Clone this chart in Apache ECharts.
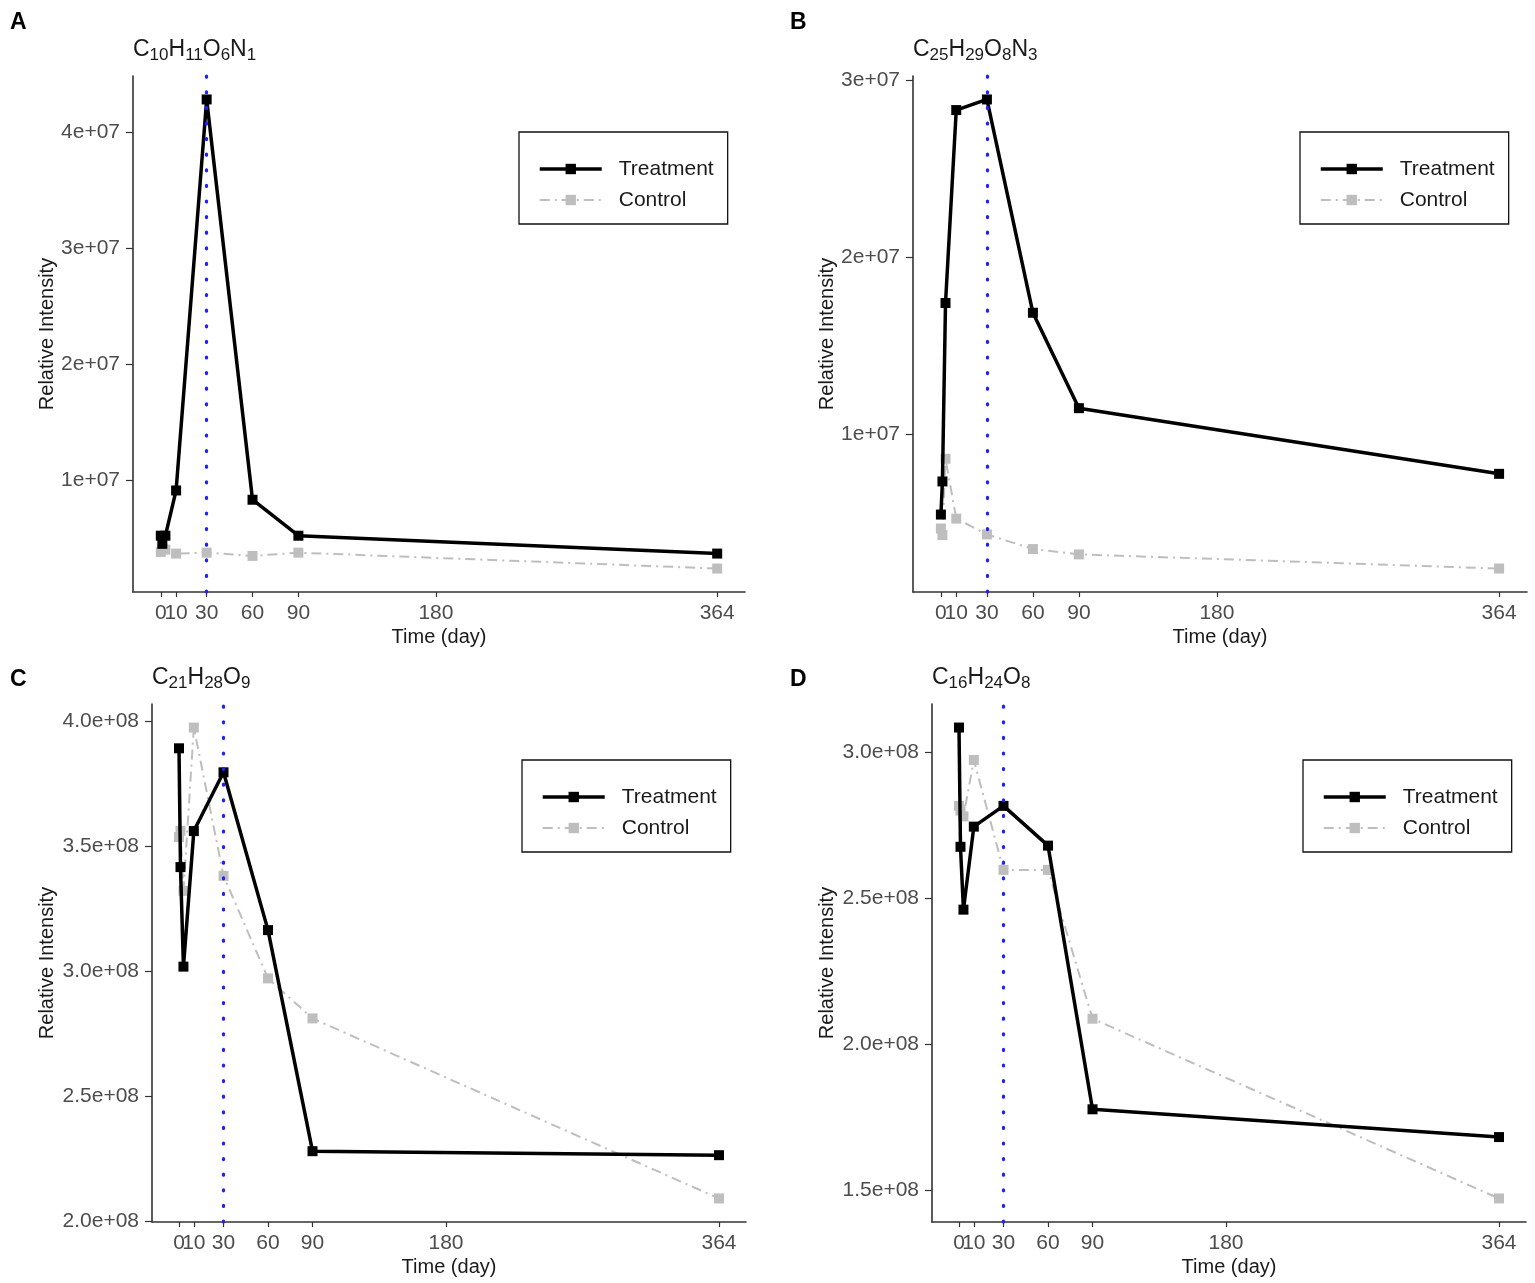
<!DOCTYPE html>
<html lang="en">
<head>
<meta charset="utf-8">
<title>Relative Intensity</title>
<script src="https://cdn.jsdelivr.net/npm/echarts@6/dist/echarts.min.js"></script>
<style>
html,body{margin:0;padding:0;background:#fff;}
#main{width:1535px;height:1283px;}
</style>
</head>
<body>
<div id="main"></div>
<script>
// sampling days and axis ticks
var days = [0, 1, 3, 10, 30, 60, 90, 364];
var xTicks = [0, 10, 30, 60, 90, 180, 364];
var markDay = 30;

// A : C10H11O6N1
var titleA = [['C', '10'], ['H', '11'], ['O', '6'], ['N', '1']];
var treatA = [5.2e6, 4.5e6, 5.2e6, 9.1e6, 4.28e7, 8.3e6, 5.2e6, 3.66e6];
var controlA = [3.8e6, 4.1e6, 4.0e6, 3.66e6, 3.74e6, 3.46e6, 3.74e6, 2.37e6];
var yTicksA = [1e7, 2e7, 3e7, 4e7];
var yLabelsA = ['1e+07', '2e+07', '3e+07', '4e+07'];

// B : C25H29O8N3
var titleB = [['C', '25'], ['H', '29'], ['O', '8'], ['N', '3']];
var treatB = [5.45e6, 7.32e6, 1.74e7, 2.83e7, 2.89e7, 1.685e7, 1.146e7, 7.75e6];
var controlB = [4.66e6, 4.29e6, 8.6e6, 5.22e6, 4.33e6, 3.5e6, 3.2e6, 2.4e6];
var yTicksB = [1e7, 2e7, 3e7];
var yLabelsB = ['1e+07', '2e+07', '3e+07'];

// C : C21H28O9
var titleC = [['C', '21'], ['H', '28'], ['O', '9']];
var treatC = [3.89e8, 3.415e8, 3.017e8, 3.559e8, 3.794e8, 3.163e8, 2.279e8, 2.263e8];
var controlC = [3.535e8, 3.56e8, 3.32e8, 3.973e8, 3.38e8, 2.97e8, 2.81e8, 2.09e8];
var yTicksC = [2.0e8, 2.5e8, 3.0e8, 3.5e8, 4.0e8];
var yLabelsC = ['2.0e+08', '2.5e+08', '3.0e+08', '3.5e+08', '4.0e+08'];

// D : C16H24O8
var titleD = [['C', '16'], ['H', '24'], ['O', '8']];
var treatD = [3.084e8, 2.676e8, 2.461e8, 2.745e8, 2.816e8, 2.68e8, 1.778e8, 1.683e8];
var controlD = [2.816e8, 2.80e8, 2.78e8, 2.973e8, 2.597e8, 2.597e8, 2.088e8, 1.473e8];
var yTicksD = [1.5e8, 2.0e8, 2.5e8, 3.0e8];
var yLabelsD = ['1.5e+08', '2.0e+08', '2.5e+08', '3.0e+08'];

var panelLetters = ['A', 'B', 'C', 'D'];
var seriesNames = ['Treatment', 'Control'];

var FONT = '"Liberation Sans", Arial, sans-serif';

// layout of the four plot panels (px)
var panels = [
    {title: titleA, treat: treatA, control: controlA, ticks: yTicksA, labels: yLabelsA,
     left: 133, top: 76, width: 612, height: 516, nameGap: 76, legendX: 519, legendY: 132, letterX: 10, letterY: 11},
    {title: titleB, treat: treatB, control: controlB, ticks: yTicksB, labels: yLabelsB,
     left: 913, top: 76, width: 614, height: 516, nameGap: 76, legendX: 1300, legendY: 132, letterX: 790, letterY: 11},
    {title: titleC, treat: treatC, control: controlC, ticks: yTicksC, labels: yLabelsC,
     left: 152, top: 704, width: 594, height: 518, nameGap: 95, legendX: 522, legendY: 760, letterX: 10, letterY: 668},
    {title: titleD, treat: treatD, control: controlD, ticks: yTicksD, labels: yLabelsD,
     left: 932, top: 704, width: 594, height: 518, nameGap: 95, legendX: 1303, legendY: 760, letterX: 790, letterY: 668}
];

function pairs(xs, ys) {
    return xs.map(function (x, i) { return [x, ys[i]]; });
}

// ggplot-like 5% padding
function expand(vals) {
    var lo = Math.min.apply(null, vals), hi = Math.max.apply(null, vals);
    var pad = (hi - lo) * 0.05;
    return [lo - pad, hi + pad];
}

var xr = expand(days);
var grids = [], xAxes = [], yAxes = [], series = [], legends = [], graphics = [];

var xLabelStyle = {hideOverlap: false, showMinLabel: true, showMaxLabel: true,
                   margin: 11, fontSize: 21, color: '#4d4d4d', fontFamily: FONT};

panels.forEach(function (p, i) {
    var yr = expand(p.treat.concat(p.control));
    grids.push({left: p.left, top: p.top, width: p.width, height: p.height, containLabel: false});

    // main x axis (0 is drawn by a companion axis so it is not dropped as overlapping "10")
    var mainTicks = xTicks.slice(1);
    xAxes.push({
        gridIndex: i, type: 'value', min: xr[0], max: xr[1],
        name: 'Time (day)', nameLocation: 'middle', nameGap: 35,
        nameTextStyle: {fontSize: 20, color: '#1a1a1a', fontFamily: FONT},
        axisLine: {show: true, onZero: false, lineStyle: {color: '#333', width: 1.6}},
        axisTick: {show: true, length: 5, customValues: mainTicks, lineStyle: {color: '#333', width: 1.2}},
        axisLabel: Object.assign({customValues: mainTicks}, xLabelStyle),
        splitLine: {show: false}
    });
    xAxes.push({
        gridIndex: i, type: 'value', min: xr[0], max: xr[1], position: 'bottom',
        axisLine: {show: false},
        axisTick: {show: true, length: 5, customValues: [xTicks[0]], lineStyle: {color: '#333', width: 1.2}},
        axisLabel: Object.assign({customValues: [xTicks[0]]}, xLabelStyle),
        splitLine: {show: false}
    });

    yAxes.push({
        gridIndex: i, type: 'value', min: yr[0], max: yr[1],
        name: 'Relative Intensity', nameLocation: 'middle', nameGap: p.nameGap, nameRotate: 90,
        nameTextStyle: {fontSize: 20, color: '#1a1a1a', fontFamily: FONT},
        axisLine: {show: true, onZero: false, lineStyle: {color: '#333', width: 1.6}},
        axisTick: {show: true, length: 7, customValues: p.ticks, lineStyle: {color: '#333', width: 1.2}},
        axisLabel: {customValues: p.ticks, hideOverlap: false, showMinLabel: true, showMaxLabel: true,
                    margin: 13, fontSize: 21, color: '#4d4d4d', fontFamily: FONT,
                    formatter: function (v) {
                        var k = p.ticks.indexOf(v);
                        return k >= 0 ? p.labels[k] : '';
                    }},
        splitLine: {show: false}
    });

    var xi = i * 2;
    series.push({
        name: seriesNames[1], type: 'line', xAxisIndex: xi, yAxisIndex: i, z: 2,
        data: pairs(days, p.control),
        symbol: 'rect', symbolSize: 10,
        itemStyle: {color: '#bebebe'},
        lineStyle: {color: '#bebebe', width: 2, type: [10, 5, 2, 5]},
        emphasis: {disabled: true}
    });
    series.push({
        name: seriesNames[0], type: 'line', xAxisIndex: xi, yAxisIndex: i, z: 3,
        data: pairs(days, p.treat),
        symbol: 'rect', symbolSize: 10,
        itemStyle: {color: '#000'},
        lineStyle: {color: '#000', width: 3.5},
        emphasis: {disabled: true}
    });
    series.push({
        name: 'vline' + i, type: 'line', xAxisIndex: xi, yAxisIndex: i, z: 5,
        data: [],
        markLine: {
            silent: true, symbol: ['none', 'none'], label: {show: false},
            lineStyle: {color: '#1f1fff', width: 3.2, type: [1, 14.6], cap: 'round'},
            data: [{xAxis: markDay}]
        }
    });

    legends.push({
        left: p.legendX, top: p.legendY, orient: 'vertical',
        data: [seriesNames[0], seriesNames[1]],
        selectedMode: false,
        backgroundColor: '#fff', borderColor: '#111', borderWidth: 1.3, borderRadius: 0,
        padding: [25, 14, 12, 19],
        itemWidth: 62, itemHeight: 13, itemGap: 7,
        lineStyle: {width: 'inherit'},
        textStyle: {fontSize: 21, color: '#1a1a1a', fontFamily: FONT, lineHeight: 24, padding: [0, 0, 0, 12]}
    });

    var rich = '';
    p.title.forEach(function (t) { rich += '{m|' + t[0] + '}{s|' + t[1] + '}'; });
    graphics.push({
        type: 'text', left: p.left, top: p.top - 38,
        style: {
            text: rich, fill: '#1a1a1a', font: '23px ' + FONT,
            rich: {
                m: {fontSize: 23, fontFamily: FONT, fill: '#1a1a1a', lineHeight: 30, verticalAlign: 'middle'},
                s: {fontSize: 17, fontFamily: FONT, fill: '#1a1a1a', lineHeight: 30, verticalAlign: 'bottom', padding: [0, 0, 1, 0]}
            }
        }
    });
    graphics.push({
        type: 'text', left: p.letterX, top: p.letterY,
        style: {text: panelLetters[i], font: 'bold 23px ' + FONT, fill: '#000'}
    });
});

var chart = echarts.init(document.getElementById('main'), null, {renderer: 'canvas'});
chart.setOption({
    backgroundColor: '#fff',
    animation: false,
    grid: grids,
    xAxis: xAxes,
    yAxis: yAxes,
    legend: legends,
    graphic: graphics,
    series: series
});
</script>
</body>
</html>
